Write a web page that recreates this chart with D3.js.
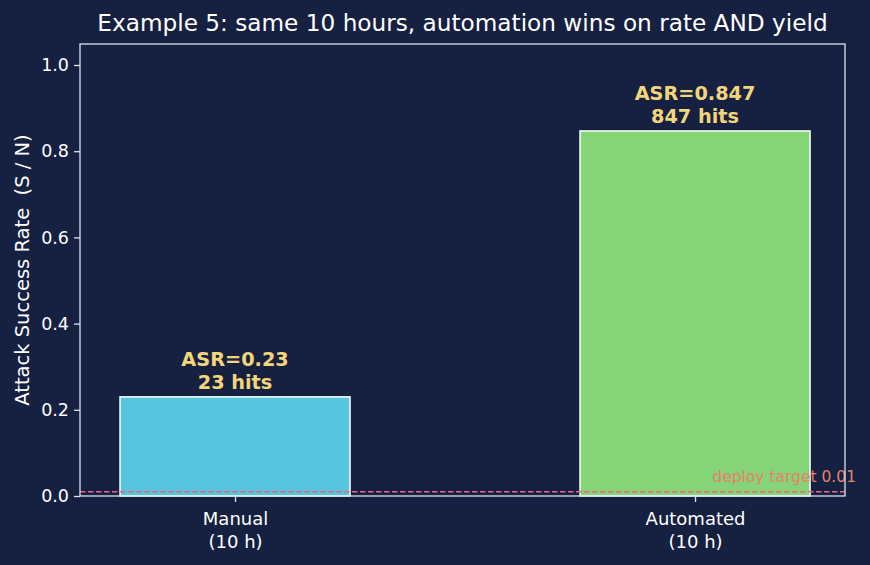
<!DOCTYPE html>
<html lang="en">
<head>
  <meta charset="UTF-8">
  <title>Example 5</title>
  <script src="https://d3js.org/d3.v7.min.js"></script>
  <style>
    body { margin: 0; background: #162040; }
    svg { display: block; font-family: "DejaVu Sans", sans-serif; }
    text { white-space: pre; }
  </style>
</head>
<body>
  <svg id="chart" width="870" height="565"></svg>

  <script>
    // data
    const categories = ["Manual\n(10 h)", "Automated\n(10 h)"];
    const asrValues = [0.23, 0.847];
    const hitCounts = [23, 847];
    const barColors = ["#56c5de", "#85d477"];
    const yTicks = [0.0, 0.2, 0.4, 0.6, 0.8, 1.0];
    const deployTarget = 0.01;

    const W = 870, H = 565;
    const margin = { left: 80, right: 25, top: 44, bottom: 69 };

    const svg = d3.select("#chart");
    svg.append("rect").attr("width", W).attr("height", H).attr("fill", "#162040");

    const x = d3.scaleLinear().domain([-0.337, 1.326]).range([margin.left, W - margin.right]);
    const y = d3.scaleLinear().domain([0, 1.0487]).range([H - margin.bottom, margin.top]);
    const barW = x(0.5) - x(0);

    // bars
    svg.selectAll("rect.bar")
      .data(asrValues)
      .enter().append("rect")
      .attr("class", "bar")
      .attr("x", (d, i) => x(i) - barW / 2)
      .attr("y", d => y(d))
      .attr("width", barW)
      .attr("height", d => y(0) - y(d))
      .attr("fill", (d, i) => barColors[i])
      .attr("stroke", "#ffffff")
      .attr("stroke-width", 1.5);

    // value labels
    const lbl = svg.selectAll("text.val")
      .data(asrValues)
      .enter().append("text")
      .attr("class", "val")
      .attr("text-anchor", "middle")
      .attr("fill", "#f3d57b")
      .attr("font-weight", "bold")
      .attr("font-size", 19.3);
    lbl.append("tspan")
      .attr("x", (d, i) => x(i))
      .attr("y", d => y(d) - 31)
      .text(d => "ASR=" + d);
    lbl.append("tspan")
      .attr("x", (d, i) => x(i))
      .attr("y", d => y(d) - 8)
      .text((d, i) => hitCounts[i] + " hits");

    // deploy target line
    svg.append("line")
      .attr("x1", margin.left).attr("x2", W - margin.right)
      .attr("y1", y(deployTarget)).attr("y2", y(deployTarget))
      .attr("stroke", "#e8667f")
      .attr("stroke-width", 1.6)
      .attr("stroke-dasharray", "5.5,2.5");
    svg.append("text")
      .attr("x", W - 14).attr("y", y(deployTarget) - 10)
      .attr("text-anchor", "end")
      .attr("fill", "#e8806e")
      .attr("font-size", 15.5)
      .text("deploy target " + deployTarget);

    // frame
    svg.append("rect")
      .attr("x", margin.left).attr("y", margin.top)
      .attr("width", W - margin.left - margin.right)
      .attr("height", H - margin.top - margin.bottom)
      .attr("fill", "none")
      .attr("stroke", "#dfe3ee")
      .attr("stroke-width", 1.3);

    // y axis
    const yAxis = svg.append("g")
      .attr("transform", `translate(${margin.left},0)`)
      .call(d3.axisLeft(y).tickValues(yTicks).tickFormat(d3.format(".1f")).tickSize(6).tickPadding(5));
    yAxis.select(".domain").remove();
    yAxis.selectAll("line").attr("stroke", "#dfe3ee").attr("stroke-width", 1.3);
    yAxis.selectAll("text").attr("fill", "#ffffff").attr("font-size", 17.5).attr("font-family", "DejaVu Sans");

    // x axis
    const xAxis = svg.append("g")
      .attr("transform", `translate(0,${H - margin.bottom})`)
      .call(d3.axisBottom(x).tickValues([0, 1]).tickSize(6).tickFormat(""));
    xAxis.select(".domain").remove();
    xAxis.selectAll("line").attr("stroke", "#dfe3ee").attr("stroke-width", 1.3);
    xAxis.selectAll("g.tick").append("text")
      .attr("text-anchor", "middle")
      .attr("fill", "#ffffff")
      .attr("font-size", 18)
      .attr("font-family", "DejaVu Sans")
      .selectAll("tspan")
      .data((d) => categories[d].split("\n"))
      .enter().append("tspan")
      .attr("x", 0)
      .attr("y", (d, i) => 29 + i * 23)
      .text(d => d);

    // y label
    svg.append("text")
      .attr("transform", `translate(29,${(margin.top + H - margin.bottom) / 2}) rotate(-90)`)
      .attr("text-anchor", "middle")
      .attr("fill", "#ffffff")
      .attr("font-size", 19.5)
      .text("Attack Success Rate  (S / N)");

    // title
    svg.append("text")
      .attr("x", (margin.left + W - margin.right) / 2)
      .attr("y", 31)
      .attr("text-anchor", "middle")
      .attr("fill", "#ffffff")
      .attr("font-size", 23.2)
      .text("Example 5: same 10 hours, automation wins on rate AND yield");
  </script>
</body>
</html>
